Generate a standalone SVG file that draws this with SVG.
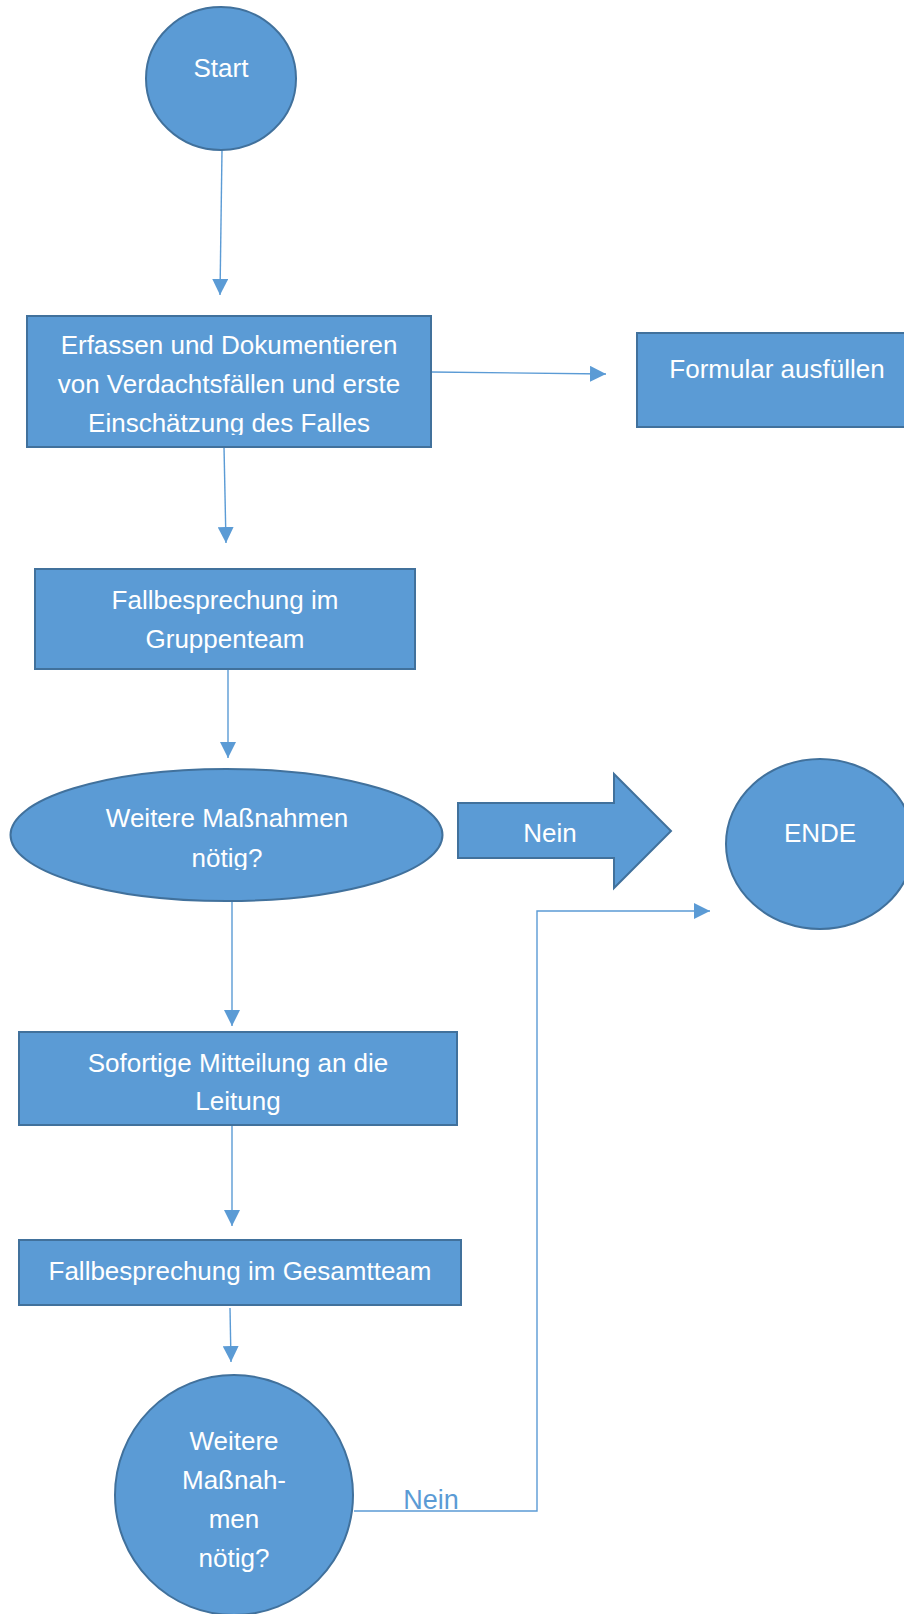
<svg xmlns="http://www.w3.org/2000/svg" width="904" height="1614" viewBox="0 0 904 1614">
<style>
.shape{fill:#5B9BD5;stroke:#41719C;stroke-width:2}
.t{font-family:"Liberation Sans",Arial,sans-serif;font-size:26px;fill:#FFFFFF;text-anchor:middle}
.conn{fill:none;stroke:#5B9BD5;stroke-width:1.4}
.lbl{font-family:"Liberation Sans",Arial,sans-serif;font-size:27px;fill:#5B9BD5;text-anchor:middle}
</style>
<defs>
<marker id="ah" markerUnits="userSpaceOnUse" markerWidth="16" markerHeight="16" refX="16" refY="8" orient="auto">
<path d="M0,0 L16,8 L0,16 Z" fill="#5B9BD5"/>
</marker>
<clipPath id="c1"><rect x="27" y="316" width="404" height="119"/></clipPath>
<clipPath id="c2"><rect x="10" y="769" width="433" height="101"/></clipPath>
</defs>
<rect width="904" height="1614" fill="#FFFFFF"/>
<g id="connectors">
<line class="conn" x1="222" y1="150" x2="220" y2="295" marker-end="url(#ah)"/>
<line class="conn" x1="431" y1="372" x2="606" y2="374" marker-end="url(#ah)"/>
<line class="conn" x1="224" y1="447" x2="226" y2="543" marker-end="url(#ah)"/>
<line class="conn" x1="228" y1="669" x2="228" y2="758" marker-end="url(#ah)"/>
<line class="conn" x1="232" y1="901" x2="232" y2="1026" marker-end="url(#ah)"/>
<line class="conn" x1="232" y1="1125" x2="232" y2="1226" marker-end="url(#ah)"/>
<line class="conn" x1="230" y1="1308" x2="231" y2="1362" marker-end="url(#ah)"/>
<polyline class="conn" points="354,1511 537,1511 537,911 710,911" marker-end="url(#ah)"/>
<text class="lbl" x="431" y="1509">Nein</text>
</g>
<g id="start">
<ellipse class="shape" cx="221" cy="78.5" rx="75" ry="71.5"/>
<text class="t" x="221" y="77">Start</text>
</g>
<g id="erfassen">
<rect class="shape" x="27" y="316" width="404" height="131"/>
<g clip-path="url(#c1)">
<text class="t" x="229" y="354">Erfassen und Dokumentieren</text>
<text class="t" x="229" y="393">von Verdachtsfällen und erste</text>
<text class="t" x="229" y="432">Einschätzung des Falles</text>
</g>
</g>
<g id="formular">
<rect class="shape" x="637" y="333" width="280" height="94"/>
<text class="t" x="777" y="378">Formular ausfüllen</text>
</g>
<g id="gruppenteam">
<rect class="shape" x="35" y="569" width="380" height="100"/>
<text class="t" x="225" y="609">Fallbesprechung im</text>
<text class="t" x="225" y="648">Gruppenteam</text>
</g>
<g id="entscheidung1">
<ellipse class="shape" cx="226.5" cy="835" rx="216" ry="66"/>
<g clip-path="url(#c2)">
<text class="t" x="227" y="827">Weitere Maßnahmen</text>
<text class="t" x="227" y="867">nötig?</text>
</g>
</g>
<g id="nein-pfeil">
<polygon class="shape" points="458,803 614,803 614,774 671,831 614,888 614,858 458,858"/>
<text class="t" x="550" y="842">Nein</text>
</g>
<g id="ende">
<ellipse class="shape" cx="820" cy="844" rx="94" ry="85"/>
<text class="t" x="820" y="842">ENDE</text>
</g>
<g id="mitteilung">
<rect class="shape" x="19" y="1032" width="438" height="93"/>
<text class="t" x="238" y="1072">Sofortige Mitteilung an die</text>
<text class="t" x="238" y="1110">Leitung</text>
</g>
<g id="gesamtteam">
<rect class="shape" x="19" y="1240" width="442" height="65"/>
<text class="t" x="240" y="1280">Fallbesprechung im Gesamtteam</text>
</g>
<g id="entscheidung2">
<ellipse class="shape" cx="234" cy="1495" rx="119" ry="120"/>
<text class="t" x="234" y="1450">Weitere</text>
<text class="t" x="234" y="1489">Maßnah-</text>
<text class="t" x="234" y="1528">men</text>
<text class="t" x="234" y="1567">nötig?</text>
</g>
</svg>
